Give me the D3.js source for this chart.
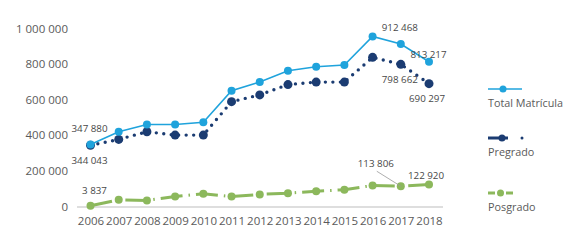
<!DOCTYPE html>
<html>
  <head>
    <meta charset="utf-8">
    <title>Matrícula</title>
    <script src="https://d3js.org/d3.v7.min.js"></script>
    <style>
      body { margin: 0; background: #fff; }
      text { font-family: "Open Sans", sans-serif; }
    </style>
  </head>
  <body>
    <script>
      // data
      const years = [2006, 2007, 2008, 2009, 2010, 2011, 2012, 2013, 2014, 2015, 2016, 2017, 2018];
      const total = [347880, 420000, 461000, 461000, 473000, 650000, 699000, 763000, 785000, 795000, 955000, 912468, 813217];
      const pregrado = [344043, 377000, 420000, 401000, 401000, 589000, 627000, 685000, 699000, 699000, 838000, 798662, 690297];
      const posgrado = [3837, 38000, 34000, 56000, 72000, 56000, 68000, 75000, 86000, 94000, 118000, 113806, 122920];
      const yTicks = [0, 200000, 400000, 600000, 800000, 1000000];
      const seriesNames = ["Total Matrícula", "Pregrado", "Posgrado"];
      // which points carry a value label
      const labelled = [
        {s: 0, year: 2006}, {s: 1, year: 2006}, {s: 2, year: 2006},
        {s: 0, year: 2017}, {s: 0, year: 2018},
        {s: 1, year: 2017}, {s: 1, year: 2018},
        {s: 2, year: 2017}, {s: 2, year: 2018}
      ];

      const width = 567;
      const height = 250;
      const fmt = v => d3.format(",")(v).replace(/,/g, " ");

      const svg = d3.select("body")
        .append("svg")
          .attr("width", width)
          .attr("height", height);

      const x = d3.scalePoint()
        .domain(years)
        .range([90.5, 429]);

      const y = d3.scaleLinear()
        .domain([0, 1000000])
        .range([206.5, 28.5]);

      // y axis labels, no line
      const yAxis = d3.axisLeft(y)
        .tickValues(yTicks)
        .tickSize(0)
        .tickPadding(0)
        .tickFormat(fmt);

      svg.append("g")
        .attr("transform", "translate(68,0)")
        .call(yAxis)
        .call(g => g.select(".domain").remove())
        .selectAll("text")
          .attr("fill", "#5a5a5a")
          .attr("font-size", 11.5);

      // x axis
      const xAxis = d3.axisBottom(x).tickSize(0).tickPadding(10.5);
      svg.append("g")
        .attr("transform", "translate(0," + y(0) + ")")
        .call(xAxis)
        .call(g => g.select(".domain").remove())
        .selectAll("text")
          .attr("fill", "#5a5a5a")
          .attr("font-size", 11.5);

      svg.append("line")
        .attr("x1", 77).attr("x2", 443)
        .attr("y1", y(0) + 0.5).attr("y2", y(0) + 0.5)
        .attr("stroke", "#bdbdbd")
        .attr("stroke-width", 1.2);

      const series = [
        {values: total, color: "#1fa3dc", width: 1.6, dash: null, cap: "butt", r: 4},
        {values: pregrado, color: "#1b3c72", width: 3.4, dash: "0,7.5", cap: "round", r: 4.5},
        {values: posgrado, color: "#8cb85c", width: 3, dash: "22,6,1.5,6", cap: "butt", r: 4}
      ];

      const line = d3.line()
        .x((d, i) => x(years[i]))
        .y(d => y(d));

      // draw back to front: posgrado, pregrado, total
      [2, 1, 0].forEach(function(s) {
        const sr = series[s];
        svg.append("path")
          .attr("d", line(sr.values))
          .attr("fill", "none")
          .attr("stroke", sr.color)
          .attr("stroke-width", sr.width)
          .attr("stroke-linecap", sr.cap)
          .attr("stroke-dasharray", sr.dash);

        svg.append("g").selectAll("circle")
          .data(sr.values)
          .join("circle")
            .attr("cx", (d, i) => x(years[i]))
            .attr("cy", d => y(d))
            .attr("r", sr.r)
            .attr("fill", sr.color);
      });

      // value labels, offset from their point
      const offsets = {
        "0-2006": [-1, -16.5], "1-2006": [-1, 15.5], "2-2006": [4, -15],
        "0-2017": [-1, -17], "0-2018": [-0.5, -7.5],
        "1-2017": [-1, 15.5], "1-2018": [-2, 15],
        "2-2017": [-25, -23], "2-2018": [-3, -9]
      };

      // leader line for the 2017 posgrado label
      svg.append("line")
        .attr("x1", x(2017) - 24).attr("y1", y(posgrado[11]) - 15)
        .attr("x2", x(2017)).attr("y2", y(posgrado[11]))
        .attr("stroke", "#999")
        .attr("stroke-width", 0.8);

      labelled.forEach(function(l) {
        const i = years.indexOf(l.year);
        const v = series[l.s].values[i];
        const o = offsets[l.s + "-" + l.year];
        svg.append("text")
          .attr("x", x(l.year) + o[0])
          .attr("y", y(v) + o[1])
          .attr("dy", "0.35em")
          .attr("text-anchor", "middle")
          .attr("font-size", 9.8)
          .attr("fill", "#484848")
          .text(fmt(v));
      });

      // legend
      const legendY = [89, 138, 193];
      const legend = svg.append("g");
      series.forEach(function(sr, s) {
        const g = legend.append("g")
          .attr("transform", "translate(488," + legendY[s] + ")");
        if (s === 0) {
          g.append("line").attr("x1", 0).attr("x2", 34)
            .attr("stroke", sr.color).attr("stroke-width", 1.6);
          g.append("circle").attr("cx", 15).attr("r", 3.5).attr("fill", sr.color);
        } else if (s === 1) {
          g.append("line").attr("x1", 0).attr("x2", 20)
            .attr("stroke", sr.color).attr("stroke-width", 3);
          g.append("circle").attr("cx", 14).attr("r", 3.5).attr("fill", sr.color);
          g.append("circle").attr("cx", 34).attr("r", 1.5).attr("fill", sr.color);
        } else {
          g.append("line").attr("x1", 0).attr("x2", 7)
            .attr("stroke", sr.color).attr("stroke-width", 3);
          g.append("line").attr("x1", 18).attr("x2", 25)
            .attr("stroke", sr.color).attr("stroke-width", 3);
          g.append("circle").attr("cx", 12.5).attr("r", 3.5).attr("fill", sr.color);
        }
        g.append("text")
          .attr("x", 0)
          .attr("y", 14)
          .attr("dy", "0.35em")
          .attr("font-size", 10.8)
          .attr("fill", "#5a5a5a")
          .text(seriesNames[s]);
      });
    </script>
  </body>
</html>
